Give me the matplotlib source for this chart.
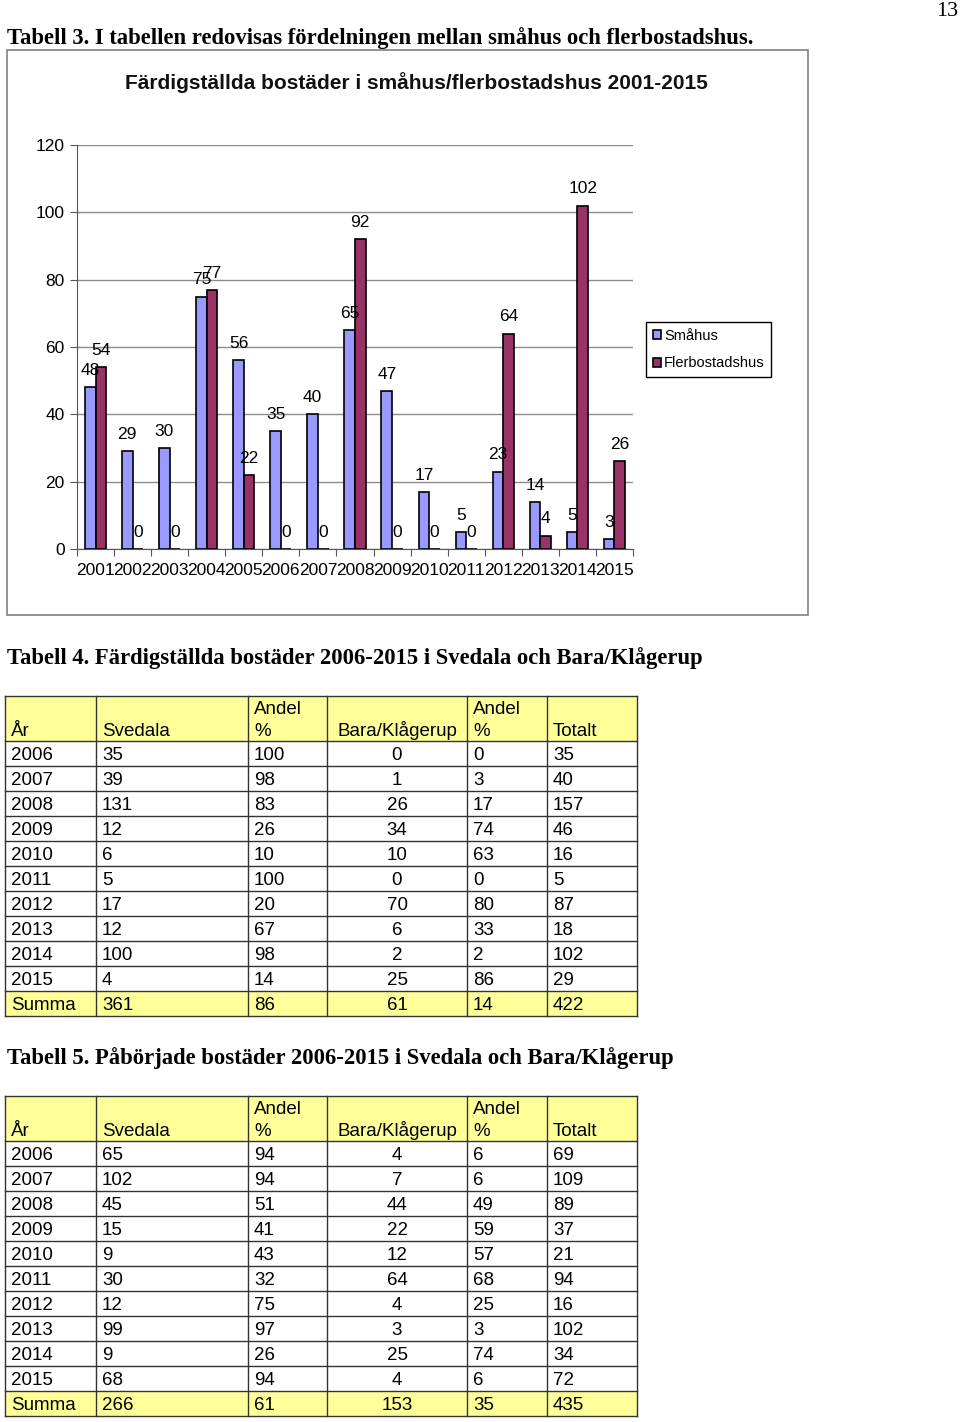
import matplotlib
matplotlib.use("Agg")
import matplotlib.pyplot as plt
from matplotlib.patches import Rectangle

plt.rcParams["font.family"] = ["Liberation Sans", "DejaVu Sans"]

W, H = 960, 1422
SERIF = ["Liberation Serif", "DejaVu Serif"]

# Chart data (Tabell 3)
years = [str(y) for y in range(2001, 2016)]
smahus = [48, 29, 30, 75, 56, 35, 40, 65, 47, 17, 5, 23, 14, 5, 3]
flerbostadshus = [54, 0, 0, 77, 22, 0, 0, 92, 0, 0, 0, 64, 4, 102, 26]
y_ticks = [0, 20, 40, 60, 80, 100, 120]

# Tables
header_top = ["", "", "Andel", "", "Andel", ""]
header_bottom = ["År", "Svedala", "%", "Bara/Klågerup", "%", "Totalt"]

t4_years = ["2006", "2007", "2008", "2009", "2010", "2011", "2012", "2013", "2014", "2015"]
t4_svedala = [35, 39, 131, 12, 6, 5, 17, 12, 100, 4]
t4_sv_pct = [100, 98, 83, 26, 10, 100, 20, 67, 98, 14]
t4_bara = [0, 1, 26, 34, 10, 0, 70, 6, 2, 25]
t4_bara_pct = [0, 3, 17, 74, 63, 0, 80, 33, 2, 86]
t4_total = [35, 40, 157, 46, 16, 5, 87, 18, 102, 29]
t4_summa = ["Summa", 361, 86, 61, 14, 422]

t5_years = t4_years
t5_svedala = [65, 102, 45, 15, 9, 30, 12, 99, 9, 68]
t5_sv_pct = [94, 94, 51, 41, 43, 32, 75, 97, 26, 94]
t5_bara = [4, 7, 44, 22, 12, 64, 4, 3, 25, 4]
t5_bara_pct = [6, 6, 49, 59, 57, 68, 25, 3, 74, 6]
t5_total = [69, 109, 89, 37, 21, 94, 16, 102, 34, 72]
t5_summa = ["Summa", 266, 61, 153, 35, 435]

BLUE = "#9999ff"
PURPLE = "#993366"
YELLOW = "#ffff99"


def px_axes(fig, x0, y0, x1, y1):
    return fig.add_axes([x0 / W, 1 - y1 / H, (x1 - x0) / W, (y1 - y0) / H])


fig = plt.figure(figsize=(W / 100, H / 100), dpi=100)
fig.patch.set_facecolor("white")

# page-level axes in pixel coordinates for headings, frame and tables
page = fig.add_axes([0, 0, 1, 1])
page.set_xlim(0, W)
page.set_ylim(H, 0)
page.axis("off")

page.text(958, 12, "13", family=SERIF, fontsize=16, ha="right", va="center")
page.text(7, 38, "Tabell 3. I tabellen redovisas fördelningen mellan småhus och flerbostadshus.",
          family=SERIF, fontsize=16.3, fontweight="bold", va="center")
page.add_patch(Rectangle((7, 50), 801, 565, fill=False, ec="#808080", lw=1.2))
page.text(416, 83, "Färdigställda bostäder i småhus/flerbostadshus 2001-2015",
          fontsize=15, fontweight="bold", ha="center", va="center", color="#111111")

# bar chart
ax = px_axes(fig, 77, 145, 633, 549)
ax.set_facecolor("none")
n = len(years)
w = 1 / 3.5
xs = list(range(n))
b1 = ax.bar([x - w / 2 for x in xs], smahus, width=w, color=BLUE,
            edgecolor="black", linewidth=1.2, label="Småhus", zorder=3)
b2 = ax.bar([x + w / 2 for x in xs], flerbostadshus, width=w, color=PURPLE,
            edgecolor="black", linewidth=1.2, label="Flerbostadshus", zorder=3)
for x, v in zip(xs, smahus):
    ax.annotate(str(v), (x - w / 2, v), xytext=(0, 12), textcoords="offset points",
                ha="center", va="center", fontsize=12.5, zorder=4)
for x, v in zip(xs, flerbostadshus):
    ax.annotate(str(v), (x + w / 2, v), xytext=(0, 12), textcoords="offset points",
                ha="center", va="center", fontsize=12.5, zorder=4)

ax.set_xlim(-0.5, n - 0.5)
ax.set_ylim(0, 120)
ax.set_yticks(y_ticks)
ax.set_yticklabels([str(t) for t in y_ticks], fontsize=12.5)
ax.yaxis.grid(True, color="#8c8c8c", lw=1)
ax.set_axisbelow(True)
ax.set_xticks([x - 0.5 for x in range(n + 1)])
ax.set_xticklabels([])
ax.set_xticks(xs, minor=True)
ax.set_xticklabels(years, minor=True, fontsize=12.5)
ax.tick_params(axis="x", which="major", length=5, color="#555555")
ax.tick_params(axis="x", which="minor", length=0, pad=10)
ax.tick_params(axis="y", length=5, color="#555555", pad=4)
for s in ["top", "right"]:
    ax.spines[s].set_visible(False)
for s in ["left", "bottom"]:
    ax.spines[s].set_color("#555555")

fig.legend(handles=[b1, b2], loc="upper left",
           bbox_to_anchor=(646 / W, 1 - 322 / H), fontsize=10.5,
           frameon=True, fancybox=False, edgecolor="black", framealpha=1,
           handlelength=0.6, handleheight=0.6, handletextpad=0.2,
           borderpad=0.45, labelspacing=0.95, borderaxespad=0)

# tables
col_x = [5, 96, 248, 327, 467, 547, 637]
HEAD_H = 45
ROW_H = 25
FS = 13.5


def draw_table(top, yrs, sv, svp, ba, bap, tot, summa):
    rows = [[yr, a, b, c, d, e] for yr, a, b, c, d, e in zip(yrs, sv, svp, ba, bap, tot)]
    y_rows = top + HEAD_H
    y_sum = y_rows + ROW_H * len(rows)
    bottom = y_sum + ROW_H
    page.add_patch(Rectangle((col_x[0], top), col_x[-1] - col_x[0], HEAD_H,
                             fc=YELLOW, ec="none"))
    page.add_patch(Rectangle((col_x[0], y_sum), col_x[-1] - col_x[0], ROW_H,
                             fc=YELLOW, ec="none"))
    lc = "#333333"
    for x in col_x:
        page.plot([x, x], [top, bottom], color=lc, lw=1)
    for yy in [top, y_rows] + [y_rows + ROW_H * (k + 1) for k in range(len(rows))] + [bottom]:
        page.plot([col_x[0], col_x[-1]], [yy, yy], color=lc, lw=1)
    for j in range(6):
        page.text(col_x[j] + 6, top + 14, header_top[j], fontsize=FS, va="center")
        if j == 3:
            page.text((col_x[j] + col_x[j + 1]) / 2, top + 35, header_bottom[j],
                      fontsize=FS, va="center", ha="center")
        else:
            page.text(col_x[j] + 6, top + 35, header_bottom[j], fontsize=FS, va="center")
    for i, r in enumerate(rows + [summa]):
        yc = y_rows + ROW_H * i + ROW_H / 2 + 2
        for j, val in enumerate(r):
            if j == 3:
                page.text((col_x[j] + col_x[j + 1]) / 2, yc, str(val),
                          fontsize=FS, va="center", ha="center")
            else:
                page.text(col_x[j] + 6, yc, str(val), fontsize=FS, va="center")


page.text(7, 658, "Tabell 4. Färdigställda bostäder 2006-2015 i Svedala och Bara/Klågerup",
          family=SERIF, fontsize=16.3, fontweight="bold", va="center")
draw_table(696, t4_years, t4_svedala, t4_sv_pct, t4_bara, t4_bara_pct, t4_total, t4_summa)

page.text(7, 1058, "Tabell 5. Påbörjade bostäder 2006-2015 i Svedala och Bara/Klågerup",
          family=SERIF, fontsize=16.3, fontweight="bold", va="center")
draw_table(1096, t5_years, t5_svedala, t5_sv_pct, t5_bara, t5_bara_pct, t5_total, t5_summa)

fig.savefig("out.png", dpi=100)
